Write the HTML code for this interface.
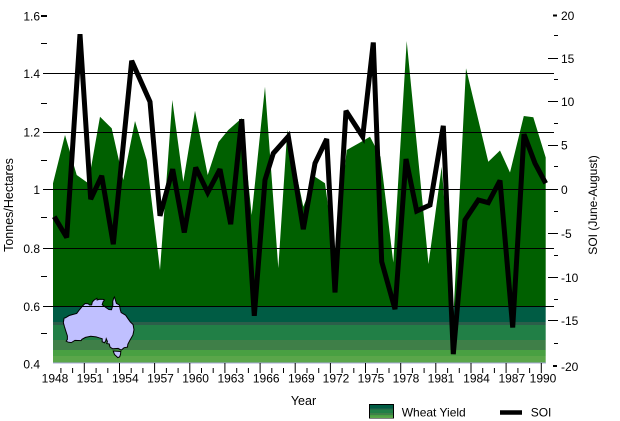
<!DOCTYPE html>
<html><head><meta charset="utf-8"><style>
html,body{margin:0;padding:0;background:#fff;}
svg{display:block;font-family:"Liberation Sans",Arial,sans-serif;}
</style></head><body>
<svg width="620" height="421" viewBox="0 0 620 421" xmlns="http://www.w3.org/2000/svg">
<rect x="0" y="0" width="620" height="421" fill="#fff"/>
<defs>
<clipPath id="ac"><polygon points="53,362.5 53,183.3 65,135 76.7,175 88.3,183.3 100,116.7 111.7,128.3 123.3,180 135,121 146.7,160 160,270 172.3,100 183.3,181.7 195,110.7 207.7,175 218.5,142 228.3,130 241.7,118.3 251.7,215 265,86.7 278.3,268 287.3,130 303.3,206.7 315,176.7 325,183.3 335,258.3 346.7,150 358.3,143.5 370,136.7 380.5,156.7 393.3,262.5 406.7,41 428.5,264 441.7,166.7 453.3,318 466,68.3 488.3,161.7 500,150.5 510,172.5 523.8,116 533.3,117.3 545.7,157.5 545.7,362.5"/></clipPath>
</defs>
<g clip-path="url(#ac)">
<rect x="50" y="0" width="500" height="307" fill="#006000"/>
<rect x="50" y="307" width="500" height="15" fill="#005c44"/>
<rect x="50" y="322" width="500" height="3" fill="#2b5e4a"/>
<rect x="50" y="325" width="500" height="15" fill="#217f46"/>
<rect x="50" y="340" width="500" height="10" fill="#3f7f48"/>
<rect x="50" y="350" width="500" height="6" fill="#49a042"/>
<rect x="50" y="356" width="500" height="7" fill="#5aa64a"/>
</g>
<line x1="53" y1="363" x2="546" y2="363" stroke="#a8a8d8" stroke-width="1"/>
<!-- Australia -->
<g transform="translate(63,297) scale(1.757,1.87) translate(-113.2,-10.7)">
<path vector-effect="non-scaling-stroke" fill="#c0c0ff" stroke="#000" stroke-width="1" d="M142.5,10.7 L143.6,14.1 L145.3,15 L145.8,17.5 L146.3,19 L148.8,20.4 L150.2,22.3 L151.5,24 L153.1,25.5 L153.6,28.2 L153,31 L151.3,33.8 L150.1,36 L149.9,37.5 L148,37.8 L146.3,39.1 L144.6,38.2 L141.5,38.4 L140,37.5 L139.5,35.8 L138.1,35.6 L138.5,34.5 L137.8,33 L137.5,34.2 L136.8,35.2 L136,34.8 L135.5,34.7 L135.5,33 L134,32.6 L132,32 L129,31.7 L126,32.3 L124,33.3 L123.5,34 L120,33.9 L117.9,35.1 L116,34.8 L115,34.3 L115.7,33.4 L115.7,31.5 L115,29.5 L114,26.5 L113.4,24.4 L113.8,22 L114.6,21.8 L116.7,20.6 L119,20 L121,19.5 L122.3,17.8 L123.5,16.5 L124.5,15.3 L125.8,14.2 L127.5,14.3 L128.4,15 L129.5,14.9 L129.9,13.4 L130.8,12.4 L132.5,11.4 L132.6,12.3 L134,11.9 L136,12 L136.8,12.3 L136,13.3 L135.5,14.8 L137,15.9 L139.3,17.4 L140.8,17.5 L141.6,15 L141.5,13 L142.1,11.2 Z"/>
</g>
<g transform="translate(113,351) scale(2.1,2.3) translate(-144.6,-40.7)">
<path vector-effect="non-scaling-stroke" fill="#c0c0ff" stroke="#000" stroke-width="1" d="M144.7,40.7 L148.3,40.9 L148.2,42 L147.8,43.2 L146.9,43.6 L145.3,42.2 Z"/>
</g>
<!-- gridlines -->
<g stroke="#000" stroke-width="1">
<line x1="43" y1="73.5" x2="554" y2="73.5"/>
<line x1="43" y1="132.5" x2="554" y2="132.5"/>
<line x1="43" y1="189.5" x2="554" y2="189.5"/>
<line x1="43" y1="248.5" x2="554" y2="248.5"/>
<line x1="43" y1="306.5" x2="554" y2="306.5"/>
</g>
<!-- left ticks -->
<g stroke="#000" stroke-width="1">
<line x1="41" y1="16" x2="47" y2="16" stroke-width="2"/>
<line x1="41" y1="43.5" x2="47" y2="43.5"/>
<line x1="41" y1="103.5" x2="47" y2="103.5"/>
<line x1="41" y1="160.5" x2="47" y2="160.5"/>
<line x1="41" y1="217.5" x2="47" y2="217.5"/>
<line x1="41" y1="276.5" x2="47" y2="276.5"/>
<line x1="41" y1="333.5" x2="47" y2="333.5"/>
</g>
<!-- right ticks -->
<g stroke="#000" stroke-width="1">
<line x1="553" y1="15.5" x2="557" y2="15.5" stroke-width="2"/>
<line x1="554" y1="35.5" x2="558" y2="35.5"/>
<line x1="548" y1="58.5" x2="558" y2="58.5"/>
<line x1="554" y1="79.5" x2="558" y2="79.5"/>
<line x1="548" y1="101.5" x2="558" y2="101.5"/>
<line x1="554" y1="123.5" x2="558" y2="123.5"/>
<line x1="548" y1="145.5" x2="558" y2="145.5"/>
<line x1="554" y1="166.5" x2="558" y2="166.5"/>
<line x1="551" y1="189.5" x2="558" y2="189.5"/>
<line x1="554" y1="211.5" x2="558" y2="211.5"/>
<line x1="548" y1="233.5" x2="558" y2="233.5"/>
<line x1="554" y1="255.5" x2="558" y2="255.5"/>
<line x1="548" y1="277.5" x2="558" y2="277.5"/>
<line x1="554" y1="299.5" x2="558" y2="299.5"/>
<line x1="548" y1="320.5" x2="558" y2="320.5"/>
<line x1="554" y1="343.5" x2="558" y2="343.5"/>
<line x1="553" y1="366" x2="557" y2="366" stroke-width="2"/>
</g>
<!-- x ticks -->
<g stroke="#000" stroke-width="1">
<line x1="60.9" y1="368" x2="60.9" y2="373"/><line x1="72.6" y1="368" x2="72.6" y2="373"/><line x1="84.3" y1="363" x2="84.3" y2="373"/>
<line x1="96.1" y1="368" x2="96.1" y2="373"/><line x1="107.8" y1="368" x2="107.8" y2="373"/><line x1="119.5" y1="363" x2="119.5" y2="373"/>
<line x1="131.2" y1="368" x2="131.2" y2="373"/><line x1="142.9" y1="368" x2="142.9" y2="373"/><line x1="154.6" y1="363" x2="154.6" y2="373"/>
<line x1="166.4" y1="368" x2="166.4" y2="373"/><line x1="178.1" y1="368" x2="178.1" y2="373"/><line x1="189.8" y1="363" x2="189.8" y2="373"/>
<line x1="201.5" y1="368" x2="201.5" y2="373"/><line x1="213.2" y1="368" x2="213.2" y2="373"/><line x1="224.9" y1="363" x2="224.9" y2="373"/>
<line x1="236.7" y1="368" x2="236.7" y2="373"/><line x1="248.4" y1="368" x2="248.4" y2="373"/><line x1="260.1" y1="363" x2="260.1" y2="373"/>
<line x1="271.8" y1="368" x2="271.8" y2="373"/><line x1="283.5" y1="368" x2="283.5" y2="373"/><line x1="295.2" y1="363" x2="295.2" y2="373"/>
<line x1="307" y1="368" x2="307" y2="373"/><line x1="318.7" y1="368" x2="318.7" y2="373"/><line x1="330.4" y1="363" x2="330.4" y2="373"/>
<line x1="342.1" y1="368" x2="342.1" y2="373"/><line x1="353.8" y1="368" x2="353.8" y2="373"/><line x1="365.5" y1="363" x2="365.5" y2="373"/>
<line x1="377.3" y1="368" x2="377.3" y2="373"/><line x1="389" y1="368" x2="389" y2="373"/><line x1="400.7" y1="363" x2="400.7" y2="373"/>
<line x1="412.4" y1="368" x2="412.4" y2="373"/><line x1="424.1" y1="368" x2="424.1" y2="373"/><line x1="435.8" y1="363" x2="435.8" y2="373"/>
<line x1="447.6" y1="368" x2="447.6" y2="373"/><line x1="459.3" y1="368" x2="459.3" y2="373"/><line x1="471" y1="363" x2="471" y2="373"/>
<line x1="482.7" y1="368" x2="482.7" y2="373"/><line x1="494.4" y1="368" x2="494.4" y2="373"/><line x1="506.1" y1="363" x2="506.1" y2="373"/>
<line x1="517.9" y1="368" x2="517.9" y2="373"/><line x1="529.6" y1="368" x2="529.6" y2="373"/><line x1="541.3" y1="363" x2="541.3" y2="373"/>
</g>
<!-- SOI line -->
<polyline fill="none" stroke="#000" stroke-width="5" stroke-linejoin="miter" stroke-miterlimit="3" points="54.3,216.7 66.7,237.5 80,34.2 90.7,199.2 101.7,175.8 113.3,244.2 131.7,60.8 150,101.7 160,215.8 172.7,169.2 184.3,232.5 195.7,167.5 207.7,192.5 220,169.2 230.7,224.2 241.7,119.2 254.3,315.8 265,180 273.3,153.3 288.3,136.5 303.3,229.2 315,163.3 326.7,139 335,292.5 346,110.8 362.7,136.7 373.3,42.5 381.7,261.7 395,309.2 406,159 416.7,211 430,205 443.3,125.8 453.3,354.2 465,220 478.3,200 488.3,202.7 500,180.5 512.7,327.5 524,134.2 535,163.3 545.7,183.3"/>
<!-- left labels -->
<g font-size="12" fill="#000" text-anchor="end">
<text x="40" y="20.3">1.6</text>
<text x="40" y="78">1.4</text>
<text x="40" y="136.5">1.2</text>
<text x="40" y="194">1</text>
<text x="40" y="252.8">0.8</text>
<text x="40" y="311">0.6</text>
<text x="40" y="368.5">0.4</text>
</g>
<!-- right labels -->
<g font-size="12" fill="#000" text-anchor="start">
<text x="561" y="19.8">20</text>
<text x="561" y="62.8">15</text>
<text x="561" y="105.8">10</text>
<text x="561" y="149.5">5</text>
<text x="561" y="193.8">0</text>
<text x="561" y="237.8">-5</text>
<text x="561" y="281.8">-10</text>
<text x="561" y="324.8">-15</text>
<text x="561" y="370.8">-20</text>
</g>
<!-- x labels -->
<g font-size="12" fill="#000" text-anchor="middle">
<text x="55" y="382.5">1948</text>
<text x="90" y="382.5">1951</text>
<text x="125.3" y="382.5">1954</text>
<text x="160.5" y="382.5">1957</text>
<text x="195.6" y="382.5">1960</text>
<text x="230.8" y="382.5">1963</text>
<text x="266.2" y="382.5">1966</text>
<text x="301.3" y="382.5">1969</text>
<text x="336" y="382.5">1972</text>
<text x="371" y="382.5">1975</text>
<text x="406" y="382.5">1978</text>
<text x="441" y="382.5">1981</text>
<text x="476.5" y="382.5">1984</text>
<text x="511.8" y="382.5">1987</text>
<text x="543" y="382.5">1990</text>
</g>
<!-- axis titles -->
<text x="303.5" y="405" font-size="12.5" text-anchor="middle" fill="#000">Year</text>
<text transform="translate(12.8,205) rotate(-90)" font-size="12.5" text-anchor="middle" fill="#000">Tonnes/Hectares</text>
<text transform="translate(597,205) rotate(-90)" font-size="12" text-anchor="middle" fill="#000">SOI (June-August)</text>
<!-- legend -->
<g>
<rect x="369.5" y="404.5" width="24" height="13.5" fill="#217f46" stroke="#000" stroke-width="1"/>
<rect x="370" y="405" width="23" height="3.5" fill="#005c44"/>
<rect x="370" y="408.5" width="23" height="1" fill="#2b5e4a"/>
<rect x="370" y="413" width="23" height="2" fill="#3f7f48"/>
<rect x="370" y="415" width="23" height="1.5" fill="#49a042"/>
<rect x="370" y="416.5" width="23" height="1.5" fill="#5aa64a"/>
<text x="401.7" y="416.5" font-size="12" fill="#000">Wheat Yield</text>
<line x1="500" y1="412.5" x2="522" y2="412.5" stroke="#000" stroke-width="4.5"/>
<text x="530.7" y="416.5" font-size="12" fill="#000">SOI</text>
</g>
</svg>
</body></html>
